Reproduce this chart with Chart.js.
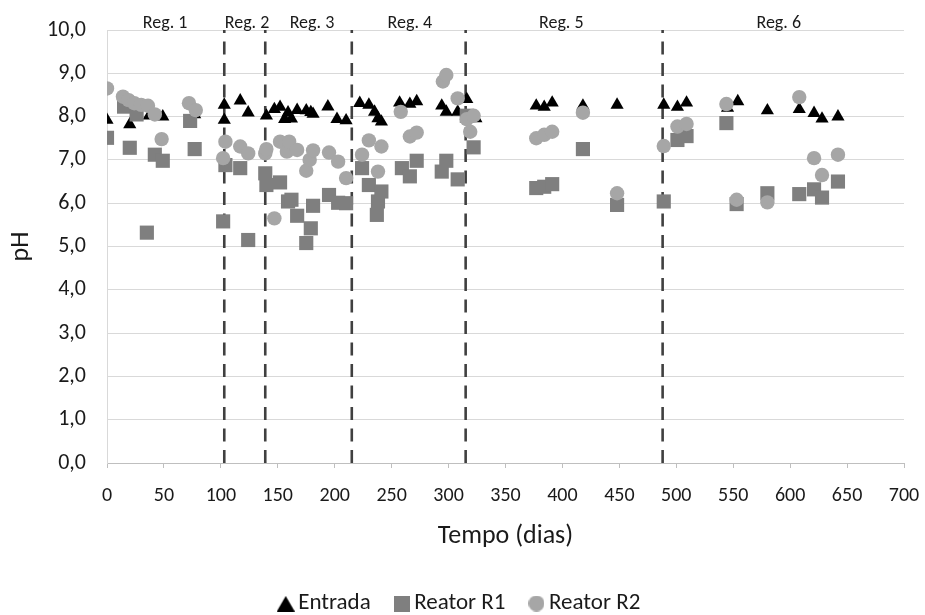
<!DOCTYPE html>
<html>
<head>
<meta charset="utf-8">
<script src="https://cdn.jsdelivr.net/npm/chart.js@4.4.1/dist/chart.umd.min.js"></script>
<style>
html,body{margin:0;padding:0;background:#fff;}
#wrap{width:925px;height:615px;position:relative;}
</style>
</head>
<body>
<div id="wrap"><canvas id="c" width="925" height="615"></canvas></div>
<script>
// ---- data ----
const entradaDays = [0,20,37,49,77,103,103,117,124,140,147,152,156,159,162,167,175,179,181,194,202,210,222,230,235,238,241,257,266,272,294,298,308,316,324,377,384,391,418,448,489,501,509,545,554,580,608,621,628,642];
const entradaPH   = [7.92,7.82,8.02,8.0,8.05,8.27,7.92,8.37,8.09,8.02,8.17,8.22,7.94,8.09,7.95,8.15,8.14,8.1,8.06,8.23,7.94,7.91,8.31,8.27,8.11,7.96,7.88,8.32,8.29,8.35,8.25,8.11,8.11,8.40,7.96,8.25,8.22,8.32,8.25,8.27,8.27,8.22,8.32,8.2,8.35,8.14,8.17,8.08,7.95,8.0];

const r1Days = [0,15,20,26,35,42,49,73,77,102,104,117,124,139,140,152,159,162,167,175,179,181,195,203,210,224,230,237,238,241,259,266,272,294,298,308,316,322,377,384,391,418,448,489,501,509,544,553,580,608,621,628,642];
const r1PH   = [7.51,8.23,7.28,8.05,5.32,7.12,6.98,7.9,7.25,5.58,6.88,6.81,5.15,6.69,6.42,6.48,6.04,6.08,5.71,5.08,5.42,5.94,6.19,6.01,6.0,6.81,6.42,5.73,6.04,6.27,6.81,6.62,6.98,6.73,6.98,6.55,8.02,7.29,6.35,6.38,6.44,7.25,5.96,6.04,7.46,7.55,7.85,5.98,6.23,6.21,6.32,6.13,6.5];

const r2Days = [0,14,19,24,30,36,42,48,72,78,102,104,117,124,139,140,147,152,158,160,167,175,178,181,195,203,210,224,230,238,241,258,266,272,295,298,308,316,319,322,377,384,391,418,448,489,501,509,544,553,580,608,621,628,642];
const r2PH   = [8.65,8.46,8.38,8.31,8.27,8.25,8.05,7.48,8.31,8.15,7.04,7.42,7.31,7.15,7.15,7.25,5.65,7.42,7.19,7.42,7.23,6.75,7.0,7.22,7.17,6.96,6.58,7.12,7.45,6.73,7.31,8.11,7.54,7.63,8.81,8.96,8.42,7.94,7.65,8.02,7.5,7.58,7.65,8.09,6.23,7.32,7.77,7.83,8.29,6.08,6.02,8.45,7.04,6.65,7.12];

const boundaryDays = [103,139,215,315,488];
const regionLabels = ['Reg. 1','Reg. 2','Reg. 3','Reg. 4','Reg. 5','Reg. 6'];
const regionLabelDays = [51,123,180,266,399,590];

const seriesNames = ['Entrada','Reator R1','Reator R2'];
const xLabel = 'Tempo (dias)';
const yLabel = 'pH';

// ---- build ----
const FONT = "Carlito, Calibri, Lato, 'Noto Sans', sans-serif";
const toPts = (xs, ys) => xs.map((x, i) => ({x: x, y: ys[i]}));

function makeIcon(kind, color) {
  const c = document.createElement('canvas');
  const w = kind === 'triangle' ? 18 : 16;
  const h = 16;
  c.width = w; c.height = h;
  const g = c.getContext('2d');
  g.fillStyle = color;
  g.beginPath();
  if (kind === 'triangle') { g.moveTo(w/2, 0.5); g.lineTo(w, h); g.lineTo(0, h); g.closePath(); }
  else if (kind === 'rect') { g.rect(0, 0, w, h); }
  else { g.arc(w/2, h/2, w/2, 0, Math.PI*2); }
  g.fill();
  return c;
}
const icons = [makeIcon('triangle','#000000'), makeIcon('rect','#7f7f7f'), makeIcon('circle','#a6a6a6')];

const datasets = [
  {label: seriesNames[0], data: toPts(entradaDays, entradaPH), pointStyle: 'triangle', pointRadius: 7.6,
   backgroundColor: '#000000', borderColor: '#000000', borderWidth: 0, order: 3},
  {label: seriesNames[1], data: toPts(r1Days, r1PH), pointStyle: 'rect', pointRadius: 10,
   backgroundColor: '#7f7f7f', borderColor: '#7f7f7f', borderWidth: 0, order: 2},
  {label: seriesNames[2], data: toPts(r2Days, r2PH), pointStyle: 'circle', pointRadius: 7.2,
   backgroundColor: '#a6a6a6', borderColor: '#a6a6a6', borderWidth: 0, order: 1}
];
boundaryDays.forEach(d => {
  datasets.push({label: 'boundary', data: [{x: d, y: 0}, {x: d, y: 10}], showLine: true,
    borderColor: '#404040', borderWidth: 2.6, borderDash: [13, 8.5], pointRadius: 0, order: 4});
});

const regionPlugin = {
  id: 'regionLabels',
  afterDraw(chart) {
    const {ctx, scales: {x}, chartArea} = chart;
    ctx.save();
    ctx.font = '18px ' + FONT;
    ctx.fillStyle = '#1a1a1a';
    ctx.textAlign = 'center';
    ctx.textBaseline = 'middle';
    regionLabels.forEach((t, i) => ctx.fillText(t, x.getPixelForValue(regionLabelDays[i]), chartArea.top - 7));
    ctx.restore();
  }
};

new Chart(document.getElementById('c'), {
  type: 'scatter',
  data: {datasets},
  plugins: [regionPlugin],
  options: {
    responsive: false,
    animation: false,
    events: [],
    layout: {padding: {top: 30, right: 0, left: 0, bottom: -10}},
    plugins: {
      tooltip: {enabled: false},
      legend: {
        position: 'bottom',
        labels: {
          usePointStyle: true,
          pointStyleWidth: 2,
          padding: 30,
          color: '#1a1a1a',
          font: {family: FONT, size: 23},
          generateLabels(chart) {
            const items = Chart.defaults.plugins.legend.labels.generateLabels(chart)
              .filter(it => it.datasetIndex < 3)
              .sort((a, b) => a.datasetIndex - b.datasetIndex);
            items.forEach(it => { it.pointStyle = icons[it.datasetIndex]; });
            return items;
          }
        }
      }
    },
    scales: {
      x: {
        type: 'linear', min: 0, max: 700,
        ticks: {stepSize: 50, color: '#1a1a1a', padding: 16, font: {family: FONT, size: 20}, maxRotation: 0},
        grid: {drawOnChartArea: false, drawTicks: true, tickLength: 5, color: '#bfbfbf'},
        border: {display: true, color: '#bfbfbf', width: 1},
        title: {display: true, text: xLabel, color: '#1a1a1a', font: {family: FONT, size: 26}, padding: {top: 0, bottom: 10}},
        afterFit(s) {
          const lh = s.chart.legend ? s.chart.legend.height : 61;
          s.height = 615 + 10 - lh - 463;
          s.paddingLeft = 0; s.paddingRight = 21;
        }
      },
      y: {
        min: 0, max: 10,
        ticks: {stepSize: 1, color: '#1a1a1a', padding: 21, font: {family: FONT, size: 22},
          callback: v => v.toFixed(1).replace('.', ',')},
        grid: {color: '#d9d9d9', drawTicks: false, lineWidth: 1},
        border: {display: true, color: '#d9d9d9', width: 1},
        title: {display: true, text: yLabel, color: '#1a1a1a', font: {family: FONT, size: 26}, padding: {top: 6, bottom: 0}},
        afterFit(s) { s.width = 107; s.paddingTop = 0; s.paddingBottom = 0; }
      }
    }
  }
});
</script>
</body>
</html>
